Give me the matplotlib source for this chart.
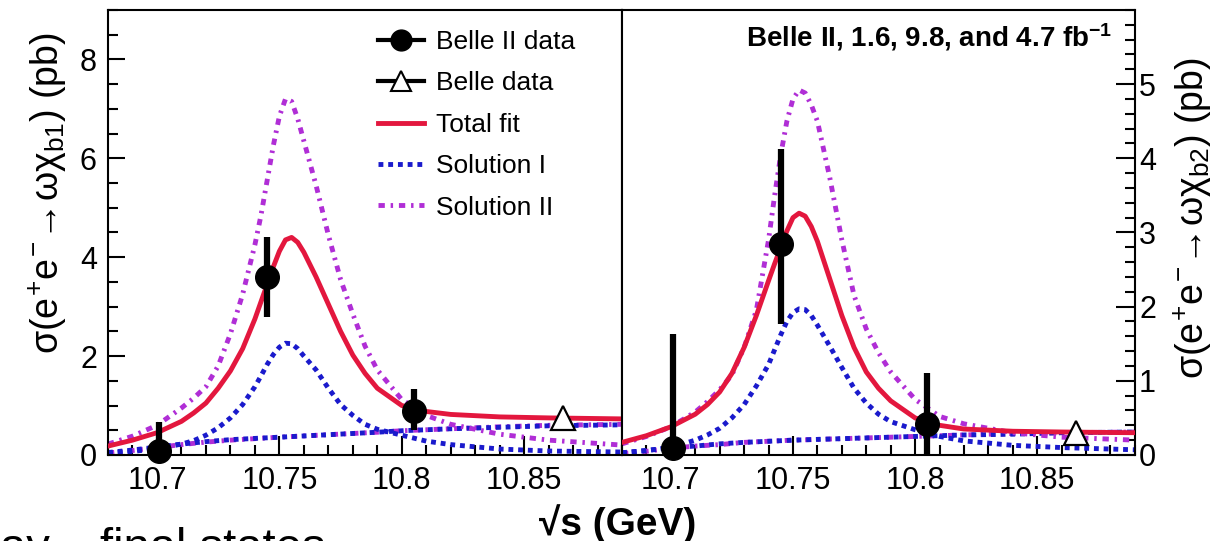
# ============================================================
# sigma(e+e- -> omega chi_bJ) : Belle II fit, two panels
# ============================================================

import matplotlib
matplotlib.use("Agg")
import matplotlib.pyplot as plt
from matplotlib.lines import Line2D
from matplotlib.ticker import MultipleLocator

plt.rcParams['font.family'] = ['Liberation Sans', 'DejaVu Sans']
plt.rcParams['mathtext.fontset'] = 'custom'
plt.rcParams['mathtext.rm'] = 'Liberation Sans'
plt.rcParams['mathtext.it'] = 'Liberation Sans'
plt.rcParams['mathtext.bf'] = 'Liberation Sans:bold'

# ============================================================
# Data
# ============================================================

# energy points for the fitted curves (GeV)
energy = [10.68, 10.69, 10.70, 10.71, 10.715, 10.72, 10.725, 10.73, 10.735,
          10.74, 10.7425, 10.745, 10.7475, 10.75, 10.7525, 10.755, 10.7575,
          10.76, 10.765, 10.77, 10.775, 10.78, 10.785, 10.79, 10.80, 10.81,
          10.82, 10.84, 10.86, 10.89]

# chi_b1 panel
total_b1 = [0.18, 0.30, 0.45, 0.68, 0.85, 1.05, 1.35, 1.70, 2.15,
            2.75, 3.10, 3.45, 3.80, 4.12, 4.35, 4.40, 4.30,
            4.10, 3.60, 3.05, 2.50, 2.02, 1.65, 1.35, 1.00, 0.88,
            0.82, 0.77, 0.75, 0.73]
sol1_b1 = [0.04, 0.07, 0.13, 0.22, 0.29, 0.40, 0.55, 0.75, 1.02,
           1.38, 1.60, 1.83, 2.03, 2.18, 2.26, 2.25, 2.15,
           2.00, 1.72, 1.35, 1.02, 0.80, 0.62, 0.52, 0.40, 0.28,
           0.21, 0.12, 0.08, 0.06]
sol2_b1 = [0.22, 0.38, 0.60, 0.95, 1.15, 1.38, 1.80, 2.45, 3.25,
           4.25, 4.85, 5.55, 6.25, 6.85, 7.20, 7.15, 6.80,
           6.35, 5.45, 4.45, 3.55, 2.85, 2.20, 1.72, 1.12, 0.80,
           0.62, 0.42, 0.30, 0.20]

# chi_b2 panel
total_b2 = [0.17, 0.26, 0.38, 0.55, 0.68, 0.85, 1.10, 1.45, 1.88,
            2.35, 2.58, 2.80, 3.02, 3.20, 3.26, 3.22, 3.08,
            2.88, 2.38, 1.88, 1.45, 1.12, 0.90, 0.73, 0.50, 0.40,
            0.35, 0.32, 0.31, 0.30]
sol1_b2 = [0.03, 0.06, 0.10, 0.20, 0.27, 0.36, 0.50, 0.68, 0.93,
           1.22, 1.42, 1.62, 1.80, 1.92, 1.97, 1.96, 1.88,
           1.75, 1.47, 1.18, 0.90, 0.70, 0.55, 0.45, 0.34, 0.25,
           0.19, 0.13, 0.10, 0.07]
sol2_b2 = [0.15, 0.25, 0.38, 0.58, 0.72, 0.88, 1.08, 1.45, 1.95,
           2.90, 3.50, 4.05, 4.50, 4.80, 4.92, 4.88, 4.72,
           4.50, 3.75, 2.90, 2.15, 1.70, 1.38, 1.12, 0.75, 0.52,
           0.42, 0.30, 0.24, 0.20]

# slowly rising second components
energy_cont = [10.68, 10.69, 10.70, 10.71, 10.72, 10.73, 10.75, 10.77,
               10.79, 10.80, 10.82, 10.84, 10.86, 10.89]
cont1_b1 = [0.05, 0.10, 0.16, 0.22, 0.27, 0.31, 0.36, 0.41,
            0.46, 0.49, 0.53, 0.56, 0.59, 0.61]
cont2_b1 = [0.04, 0.09, 0.15, 0.21, 0.26, 0.30, 0.36, 0.41,
            0.46, 0.49, 0.53, 0.57, 0.60, 0.62]
cont1_b2 = [0.03, 0.06, 0.10, 0.12, 0.15, 0.17, 0.20, 0.22,
            0.24, 0.25, 0.27, 0.28, 0.30, 0.31]
cont2_b2 = [0.02, 0.05, 0.09, 0.12, 0.14, 0.17, 0.20, 0.22,
            0.24, 0.25, 0.27, 0.29, 0.30, 0.31]

# Belle II points
belle2_x = [10.701, 10.745, 10.805]
belle2_b1 = [0.08, 3.60, 0.89]
belle2_b1_lo = [0.0, 2.79, 0.50]
belle2_b1_hi = [0.67, 4.41, 1.34]
belle2_b2 = [0.10, 2.84, 0.42]
belle2_b2_lo = [0.0, 1.77, 0.0]
belle2_b2_hi = [1.63, 4.12, 1.11]

# Belle point
belle_x = [10.866]
belle_b1 = [0.75]
belle_b2 = [0.29]

XTICKS = [10.7, 10.75, 10.8, 10.85]
XTICK_LABELS = ["10.7", "10.75", "10.8", "10.85"]

# ============================================================
# Styles
# ============================================================

RED = "#e3173e"
BLUE = "#1a1acc"
MAGENTA = "#b02ed6"
DOT = (0, (1.0, 1.0))
DASHDOT = (0, (1.3, 1.2, 0.5, 1.2))

fig = plt.figure(figsize=(12.3, 5.41), dpi=100)

ax1 = fig.add_axes([0.0878, 0.159, 0.4180, 0.8226])
ax2 = fig.add_axes([0.5057, 0.159, 0.4170, 0.8226])


def draw_panel(ax, total, sol1, sol2, cont1, cont2, b2y, b2lo, b2hi, by):
    ax.plot(energy_cont, cont2, color=MAGENTA, lw=3.5, ls=DASHDOT, zorder=2)
    ax.plot(energy_cont, cont1, color=BLUE, lw=3.5, ls=DOT, zorder=2)
    ax.plot(energy, sol2, color=MAGENTA, lw=3.5, ls=DASHDOT, zorder=2)
    ax.plot(energy, sol1, color=BLUE, lw=3.5, ls=DOT, zorder=2)
    ax.plot(energy, total, color=RED, lw=3.5, zorder=3)

    yerr = [[y - lo for y, lo in zip(b2y, b2lo)],
            [hi - y for y, hi in zip(b2y, b2hi)]]
    ax.errorbar(belle2_x, b2y, yerr=yerr, fmt='o', color='black', ms=17,
                elinewidth=4.5, capsize=0, zorder=5, clip_on=False)
    ax.plot(belle_x, by, ls='none', marker='^', mfc='white', mec='black',
            ms=17, mew=1.6, zorder=5)

    ax.set_xlim(10.68, 10.89)
    ax.set_xticks(XTICKS)
    ax.set_xticklabels(XTICK_LABELS)
    ax.xaxis.set_minor_locator(MultipleLocator(0.01))
    ax.tick_params(which='both', direction='in', top=False, labelsize=22,
                   width=1.5, pad=8)
    ax.tick_params(which='major', length=14)
    ax.tick_params(which='minor', length=7)
    for s in ax.spines.values():
        s.set_linewidth(1.5)


draw_panel(ax1, total_b1, sol1_b1, sol2_b1, cont1_b1, cont2_b1,
           belle2_b1, belle2_b1_lo, belle2_b1_hi, belle_b1)
draw_panel(ax2, total_b2, sol1_b2, sol2_b2, cont1_b2, cont2_b2,
           belle2_b2, belle2_b2_lo, belle2_b2_hi, belle_b2)

ax1.set_ylim(0, 9)
ax1.set_yticks([0, 2, 4, 6, 8])
ax1.yaxis.set_minor_locator(MultipleLocator(0.5))
ax1.tick_params(axis='y', which='both', right=False)
ax1.tick_params(axis='y', which='major', length=12)

ax2.set_ylim(0, 6)
ax2.set_yticks([0, 1, 2, 3, 4, 5])
ax2.yaxis.set_minor_locator(MultipleLocator(0.2))
ax2.tick_params(axis='y', which='both', left=False, right=True,
                labelleft=False, labelright=True, pad=3)
ax2.tick_params(axis='y', which='major', length=14)

# ============================================================
# Legend
# ============================================================

handles = [
    Line2D([], [], color='black', lw=3, marker='o', ms=15),
    Line2D([], [], color='black', lw=3, marker='^', mfc='white',
           mec='black', ms=14, mew=1.5),
    Line2D([], [], color=RED, lw=3.5),
    Line2D([], [], color=BLUE, lw=3.5, ls=DOT),
    Line2D([], [], color=MAGENTA, lw=3.5, ls=DASHDOT),
]
labels = ["Belle II data", "Belle data", "Total fit", "Solution I",
          "Solution II"]
ax1.legend(handles, labels, loc='upper left', bbox_to_anchor=(0.525, 0.955),
           frameon=False, fontsize=19, handlelength=1.75, handletextpad=0.45,
           labelspacing=0.66, borderpad=0, borderaxespad=0)

# ============================================================
# Labels
# ============================================================

ax2.text(0.957, 0.94, r"Belle II, 1.6, 9.8, and 4.7 fb$^{\mathbf{-1}}$",
         transform=ax2.transAxes, ha='right', va='center', fontsize=20,
         fontweight='bold')

fig.text(0.039, 1 - 32 / 541,
         r"$\sigma(e^{+}e^{-}\!\rightarrow\!\omega\chi_{b1})$ (pb)",
         rotation=90, ha='center', va='top', fontsize=27)
fig.text(0.970, 1 - 57 / 541,
         r"$\sigma(e^{+}e^{-}\!\rightarrow\!\omega\chi_{b2})$ (pb)",
         rotation=90, ha='center', va='top', fontsize=27)

fig.text(0.502, 1 - 504 / 541, "√s (GeV)", ha='center', va='top',
         fontsize=28, fontweight='bold')

fig.text(0.0, 1 - 527 / 541, "ay", ha='left', va='top', fontsize=34)
fig.text(100 / 1230, 1 - 527 / 541, "final states", ha='left', va='top',
         fontsize=34)

fig.savefig("out.png", dpi=100)
